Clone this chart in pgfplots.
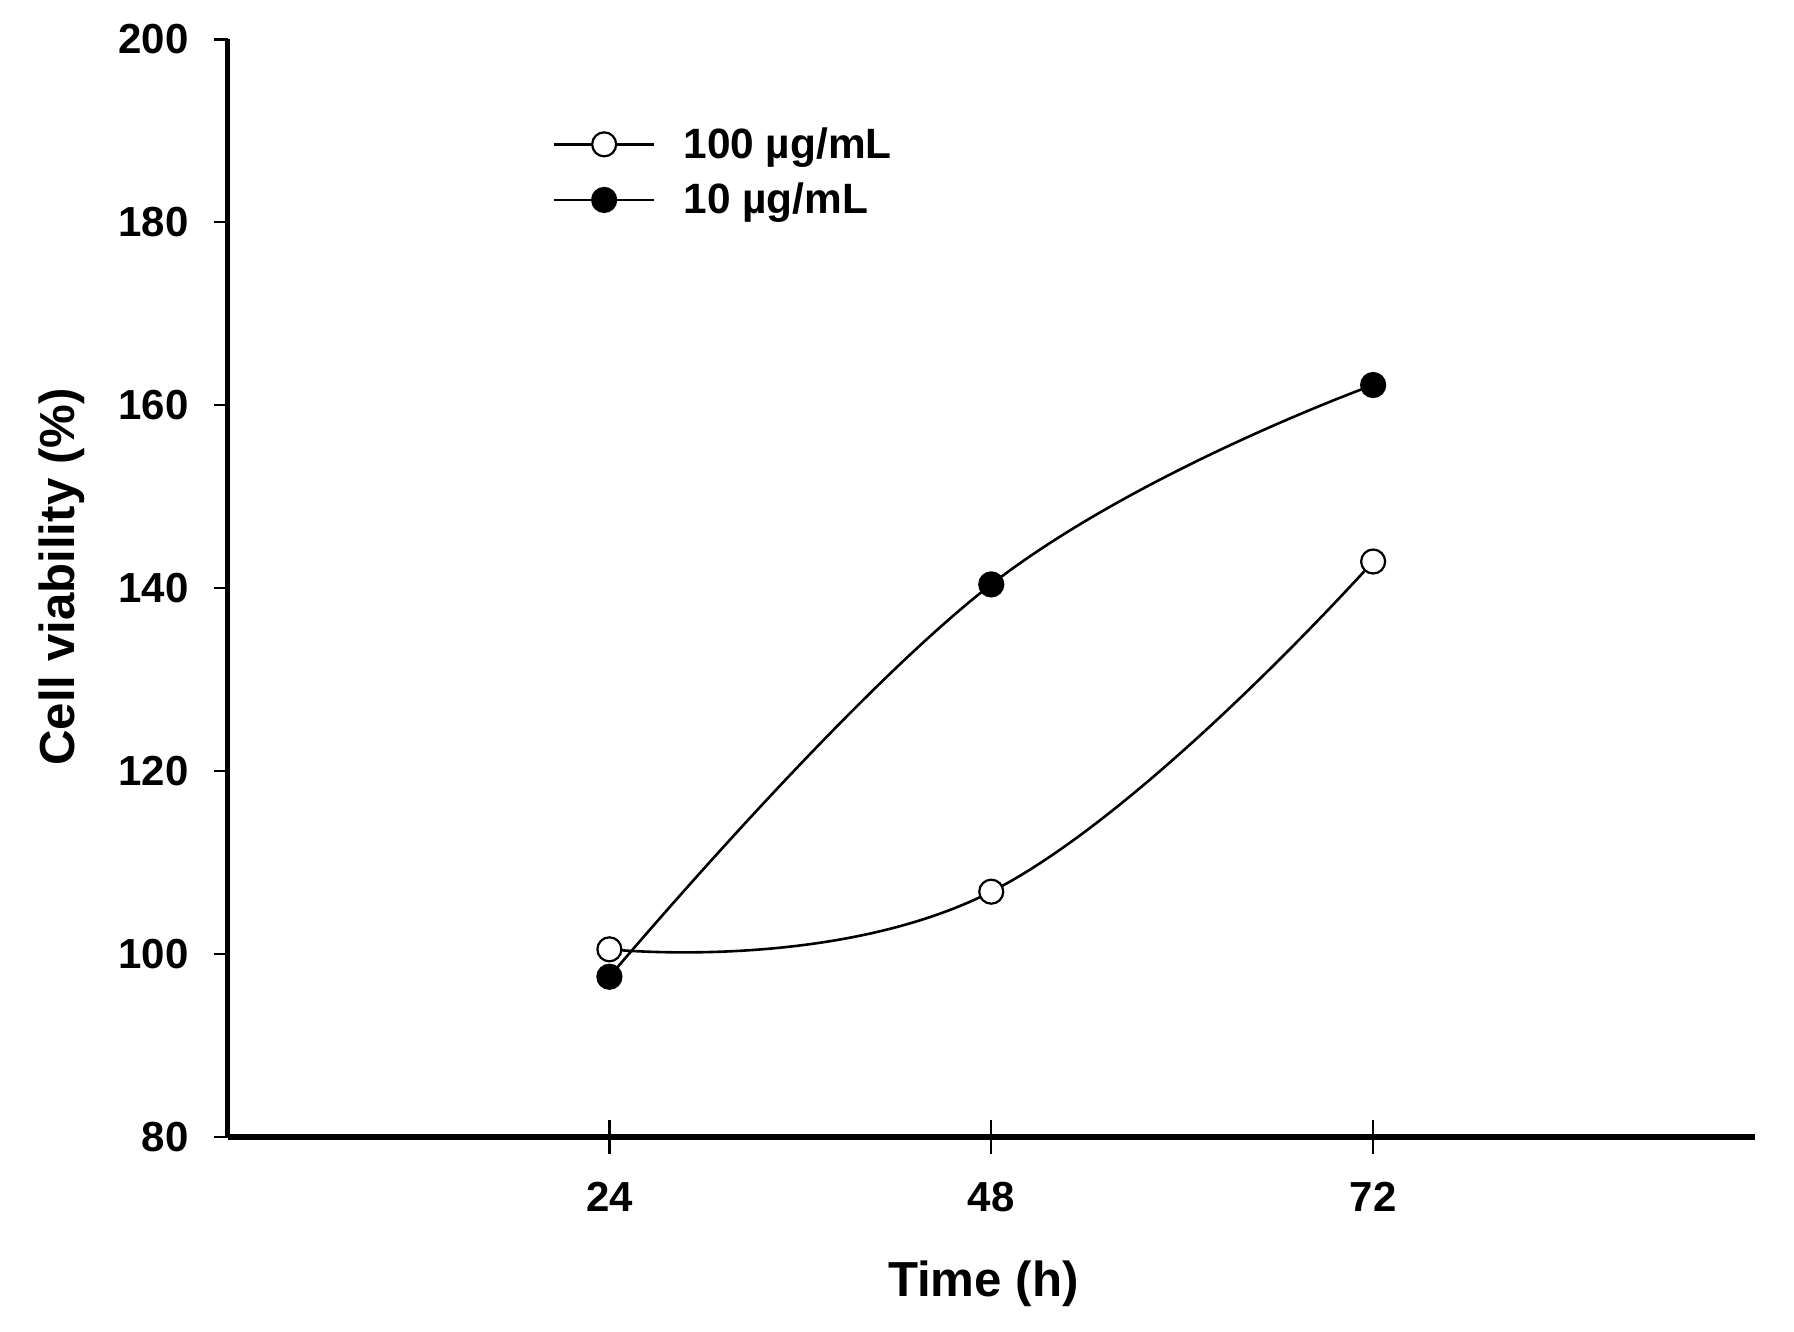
\documentclass[border=0pt]{standalone}
\usepackage{fontspec}
\setmainfont{Liberation Sans}
\usepackage{pgfplots}
\pgfplotsset{compat=1.18}
\begin{document}
\begin{tikzpicture}
\begin{axis}[
  scale only axis,
  width=381.85pt, height=274.35pt,
  xmin=0, xmax=96, ymin=80, ymax=200,
  clip=false,
  axis x line*=bottom, axis y line*=left,
  axis line style={-, line width=1.4pt, black},
  xtick=\empty,
  extra x ticks={24,48,72},
  extra x tick style={tick align=center, major tick length=8.4pt},
  ytick={80,100,120,140,160,180,200},
  tick align=outside, major tick length=3.5pt,
  tick style={black, line width=0.6pt},
  /pgf/number format/assume math mode=true,
  tick label style={font=\fontsize{10.5}{12}\selectfont\bfseries},
  yticklabel style={anchor=east, inner sep=0pt, xshift=-6pt},
  xticklabel style={anchor=north, inner sep=0pt, yshift=-7pt},
  xlabel={Time (h)},
  xlabel style={at={(axis description cs:0.4948,-0.1458)}, anchor=base, font=\fontsize{12.3}{14}\selectfont\bfseries},
  ylabel={Cell viability (\%)},
  ylabel style={at={(axis description cs:-0.1084,0.51)}, anchor=center, font=\fontsize{12.3}{14}\selectfont\bfseries},
  legend style={draw=none, fill=none, inner sep=0pt, outer sep=0pt,
    at={(axis description cs:0.213,0.9207)}, anchor=north west,
    row sep=4.9pt, column sep=7pt,
    font=\fontsize{10.6}{12}\selectfont\bfseries,
    nodes={inner sep=0pt, text height=8pt, text depth=1pt},
    cells={anchor=west}},
  legend cell align=left,
  legend image code/.code={\draw[mark repeat=2,mark phase=2,#1] plot coordinates {(0pt,0pt) (12.5pt,0pt) (25pt,0pt)};},
]
\addplot[smooth, tension=0.75, black, line width=0.65pt, mark=*, mark size=3pt, mark options={fill=white, line width=0.55pt}]
  coordinates {(24,100.5) (48,106.8) (72,142.9)};
\addlegendentry{100 µg/mL}
\addplot[smooth, tension=0.7, black, line width=0.65pt, mark=*, mark size=3pt, mark options={fill=black, line width=0.55pt}]
  coordinates {(24,97.5) (48,140.4) (72,162.2)};
\addlegendentry{10 µg/mL}
\coordinate (O) at (rel axis cs:0,0);
\coordinate (T) at (rel axis cs:1,1);
\end{axis}
\pgfresetboundingbox
\path ([shift={(-56.875pt,-48.575pt)}]O) rectangle ([shift={(9.75pt,9.825pt)}]T);
\end{tikzpicture}
\end{document}
